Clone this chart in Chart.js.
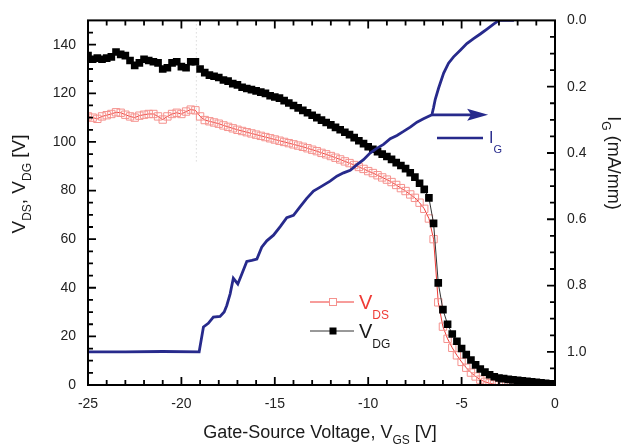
<!DOCTYPE html>
<html><head><meta charset="utf-8">
<script src="https://cdn.jsdelivr.net/npm/chart.js@4.4.1/dist/chart.umd.min.js"></script>
<style>html,body{margin:0;padding:0;background:#fff;}canvas{display:block;}</style>
</head><body>
<canvas id="c" width="628" height="448"></canvas>
<script>
// Gate-source voltage sweep (V)
const vgs = [-25,-24.75,-24.5,-24.25,-24,-23.75,-23.5,-23.25,-23,-22.75,
 -22.5,-22.25,-22,-21.75,-21.5,-21.25,-21,-20.75,-20.5,-20.25,
 -20,-19.75,-19.5,-19.25,-19,-18.75,-18.5,-18.25,-18,-17.75,
 -17.5,-17.25,-17,-16.75,-16.5,-16.25,-16,-15.75,-15.5,-15.25,
 -15,-14.75,-14.5,-14.25,-14,-13.75,-13.5,-13.25,-13,-12.75,
 -12.5,-12.25,-12,-11.75,-11.5,-11.25,-11,-10.75,-10.5,-10.25,
 -10,-9.75,-9.5,-9.25,-9,-8.75,-8.5,-8.25,-8,-7.75,
 -7.5,-7.25,-7,-6.75,-6.5,-6.25,-6,-5.75,-5.5,-5.25,
 -5,-4.75,-4.5,-4.25,-4,-3.75,-3.5,-3.25,-3,-2.75,
 -2.5,-2.25,-2,-1.75,-1.5,-1.25,-1,-0.75,-0.5,-0.25,0];
// V_DS (V)
const vds = [110.5,110,109.5,110.5,111,111.5,112.2,112,111.2,110.5,
 110,110.8,111.2,111.5,111.5,110.5,109.2,110.5,111.5,112,
 111.5,112.5,113.3,113,110.5,109,108.5,108,107.5,106.8,
 106.2,105.6,105,104.5,104,103.5,103,102.5,102,101.5,
 101,100.5,100,99.5,99,98.5,98,97.4,96.8,96.2,
 95.5,94.9,94.2,93.5,92.8,92,91.3,90.5,89.7,88.9,
 88,87.2,86.3,85.4,84.5,83.5,82.3,81,79.8,78.4,
 77,75,72.5,68.5,60,34,24,19,15.3,12.2,
 9.5,7.1,5.1,3.5,2.2,1.3,0.7,0.3,0.1,0,
 0,0,0,0,0,0,0,0,0,0,0];
// V_DG (V)
const vdg = [135.5,134,134.5,134,134.5,135,137,136,135.5,133.5,
 131.5,132.5,134,133.5,133,132.5,130,130.5,132.5,133,
 131,130.5,133,133,130,128.5,127.5,127,126.5,125.5,
 125,124,123.5,122.5,122,121.5,121,120.5,120,119,
 118.5,118,117,116,115,114,113,112,111,110,
 109,108,107,106,105,104,103,101.8,100.5,99.3,
 98,97,96,95,94,92.8,91.5,90.3,89,87.3,
 85.5,83,80.5,77,66.5,42,31,25,21,18,
 15,12.5,10.3,8.3,6.6,5.3,4.2,3.4,2.9,2.6,
 2.3,2.1,1.9,1.7,1.5,1.3,1.1,0.9,0.7,0.5,0.3];
// Gate current I_G (mA/mm), right axis
const igVgs = [-25,-23,-21,-19.05,-18.82,-18.56,-18.29,-17.93,-17.71,-17.57,
 -17.39,-17.22,-16.98,-16.77,-16.5,-16.23,-15.96,-15.7,-15.43,-15.07,
 -14.71,-14.36,-14.0,-13.64,-13.29,-12.93,-12.57,-12.04,-11.68,-11.32,
 -10.96,-10.6,-10.25,-9.9,-9.54,-9.18,-8.82,-8.46,-8.11,-7.75,
 -7.39,-7.04,-6.59,-6.5,-6.41,-6.23,-5.96,-5.7,-5.43,-5.07,
 -4.72,-4.36,-4.0,-3.64,-3.29,-3.0,-2.2];
const igVal = [1.0,1.0,0.999,1.0,0.925,0.914,0.895,0.893,0.88,0.86,
 0.825,0.778,0.795,0.766,0.727,0.724,0.72,0.684,0.665,0.648,
 0.622,0.595,0.588,0.562,0.537,0.515,0.503,0.485,0.47,0.46,
 0.452,0.435,0.42,0.40,0.386,0.374,0.357,0.347,0.335,0.322,
 0.307,0.297,0.285,0.263,0.238,0.204,0.159,0.129,0.11,0.09,
 0.07,0.055,0.041,0.026,0.011,0.0,0.0];
// tick labels
const xTickLabels = ['-25','-20','-15','-10','-5','0'];
const yTickLabels = ['0','20','40','60','80','100','120','140'];
const y2TickLabels = ['0.0','0.2','0.4','0.6','0.8','1.0'];
// annotation: arrow from I_G curve pointing to right axis
const arrowFrom = [-6.59, 0.285];
const arrowTo = [-3.58, 0.285];
const markerLine = [-19.2, 92, 150];

const FONT = '"Liberation Sans", Arial, Helvetica, sans-serif';
const RED = '#ef3b36', RED_M = '#f5928e', BLUE = '#272a8c', INK = '#1a1a1a';

function fmtX(v){ const s = String(Math.round(v)); return (Math.abs(v-Math.round(v))<1e-6 && xTickLabels.includes(s)) ? s : ''; }
function fmtY(v){ const s = String(Math.round(v)); return (Math.abs(v-Math.round(v))<1e-6 && yTickLabels.includes(s)) ? s : ''; }
function fmtY2(v){ const s = v.toFixed(1); return (Math.abs(v*5-Math.round(v*5))<1e-6 && y2TickLabels.includes(s)) ? s : ''; }

function drawParts(ctx, parts, x, y, align){
  let w = 0;
  parts.forEach(p=>{ ctx.font = p.size+'px '+FONT; p.w = ctx.measureText(p.t).width; w += p.w; });
  let cx = align==='center' ? x - w/2 : x;
  ctx.textAlign = 'left'; ctx.textBaseline = 'alphabetic';
  parts.forEach(p=>{ ctx.font = p.size+'px '+FONT; ctx.fillStyle = p.color || INK; ctx.fillText(p.t, cx, y + (p.dy||0)); cx += p.w; });
}

const deco = {
  id: 'deco',
  beforeDatasetsDraw(chart){
    const ctx = chart.ctx, xs = chart.scales.x, ys = chart.scales.y;
    ctx.save();
    ctx.strokeStyle = '#c8c8c8'; ctx.lineWidth = 1; ctx.setLineDash([1,3]);
    const px = xs.getPixelForValue(markerLine[0]);
    ctx.beginPath(); ctx.moveTo(px, ys.getPixelForValue(markerLine[2])); ctx.lineTo(px, ys.getPixelForValue(markerLine[1])); ctx.stroke();
    ctx.restore();
  },
  afterDatasetsDraw(chart){
    const ctx = chart.ctx, a = chart.chartArea;
    const xs = chart.scales.x, ys = chart.scales.y, y2 = chart.scales.y2;
    ctx.save();
    // arrow
    const ax0 = xs.getPixelForValue(arrowFrom[0]), ay = y2.getPixelForValue(arrowFrom[1]);
    const ax1 = xs.getPixelForValue(arrowTo[0]);
    ctx.strokeStyle = BLUE; ctx.fillStyle = BLUE; ctx.lineWidth = 2.8;
    ctx.beginPath(); ctx.moveTo(ax0, ay); ctx.lineTo(ax1-14, ay); ctx.stroke();
    ctx.beginPath(); ctx.moveTo(ax1, ay); ctx.lineTo(ax1-21, ay-6); ctx.lineTo(ax1-17, ay); ctx.lineTo(ax1-21, ay+6); ctx.closePath(); ctx.fill();
    // frame
    ctx.strokeStyle = '#000'; ctx.lineWidth = 2;
    ctx.strokeRect(a.left, a.top, a.right-a.left, a.bottom-a.top);
    // inward ticks
    ctx.lineWidth = 1.8;
    ctx.beginPath();
    xs.ticks.forEach(t=>{
      const p = xs.getPixelForValue(t.value);
      if (p <= a.left+1 || p >= a.right-1) return;
      const L = fmtX(t.value) ? 8 : 5;
      ctx.moveTo(p, a.bottom); ctx.lineTo(p, a.bottom-L);
      ctx.moveTo(p, a.top); ctx.lineTo(p, a.top+L);
    });
    ys.ticks.forEach(t=>{
      const p = ys.getPixelForValue(t.value);
      if (p <= a.top+1 || p >= a.bottom-1) return;
      const L = fmtY(t.value) ? 8 : 5;
      ctx.moveTo(a.left, p); ctx.lineTo(a.left+L, p);
    });
    y2.ticks.forEach(t=>{
      const p = y2.getPixelForValue(t.value);
      if (p <= a.top+1 || p >= a.bottom-1) return;
      const L = fmtY2(t.value) ? 8 : 5;
      ctx.moveTo(a.right, p); ctx.lineTo(a.right-L, p);
    });
    ctx.stroke();
    // legend
    ctx.lineWidth = 1;
    ctx.strokeStyle = RED; ctx.beginPath(); ctx.moveTo(310, 302); ctx.lineTo(354, 302); ctx.stroke();
    ctx.fillStyle = '#fff'; ctx.fillRect(329.5, 298.5, 7, 7);
    ctx.strokeStyle = RED_M; ctx.strokeRect(329.5, 298.5, 7, 7);
    drawParts(ctx, [{t:'V',size:20,color:RED},{t:'DS',size:12,dy:10,color:RED}], 359, 309, 'left');
    ctx.strokeStyle = '#333'; ctx.beginPath(); ctx.moveTo(310, 331); ctx.lineTo(354, 331); ctx.stroke();
    ctx.fillStyle = '#000'; ctx.fillRect(329.5, 327.5, 7, 7);
    drawParts(ctx, [{t:'V',size:20},{t:'DG',size:12,dy:10}], 359, 338, 'left');
    ctx.strokeStyle = BLUE; ctx.lineWidth = 2.5; ctx.beginPath(); ctx.moveTo(437, 138); ctx.lineTo(483, 138); ctx.stroke();
    drawParts(ctx, [{t:'I',size:16,color:BLUE},{t:'G',size:11,dy:10,color:BLUE}], 489, 143, 'left');
    // axis titles
    drawParts(ctx, [{t:'Gate-Source Voltage, V',size:18},{t:'GS',size:12,dy:6},{t:' [V]',size:18}], 320, 438, 'center');
    ctx.save(); ctx.translate(25, 184); ctx.rotate(-Math.PI/2);
    drawParts(ctx, [{t:'V',size:19},{t:'DS',size:12,dy:6},{t:', V',size:19},{t:'DG',size:12,dy:6},{t:' [V]',size:19}], 0, 0, 'center');
    ctx.restore();
    ctx.save(); ctx.translate(608, 163); ctx.rotate(Math.PI/2);
    drawParts(ctx, [{t:'I',size:18},{t:'G',size:12,dy:6},{t:' (mA/mm)',size:18}], 0, 0, 'center');
    ctx.restore();
    ctx.restore();
  }
};

const tickFont = {family: FONT, size: 14};
new Chart(document.getElementById('c'), {
  type: 'line',
  data: {
    datasets: [
      { label: 'I_G', data: igVgs.map((v,i)=>({x:v, y:igVal[i]})), yAxisID: 'y2',
        borderColor: BLUE, borderWidth: 2.8, pointRadius: 0, tension: 0, fill: false },
      { label: 'V_DG', data: vgs.map((v,i)=>({x:v, y:vdg[i]})), yAxisID: 'y',
        borderColor: '#333', borderWidth: 1, pointStyle: 'rect', pointRadius: 5.4,
        pointBackgroundColor: '#000', pointBorderColor: '#000', pointBorderWidth: 0, tension: 0, fill: false },
      { label: 'V_DS', data: vgs.map((v,i)=>({x:v, y:vds[i]})), yAxisID: 'y',
        borderColor: RED, borderWidth: 1, pointStyle: 'rect', pointRadius: 5.2,
        pointBackgroundColor: 'rgba(0,0,0,0)', pointBorderColor: RED_M, pointBorderWidth: 1, tension: 0, fill: false }
    ]
  },
  options: {
    responsive: false, animation: false, devicePixelRatio: 1,
    layout: { padding: { top: 13, left: 0, right: 0, bottom: 0 } },
    plugins: { legend: { display: false }, tooltip: { enabled: false } },
    scales: {
      x: { type: 'linear', position: 'bottom', min: -25, max: 0,
        afterFit(s){ s.height = 63; },
        grid: { display: false, drawTicks: false }, border: { display: false },
        ticks: { stepSize: 1, autoSkip: false, maxRotation: 0, padding: 11, font: tickFont, color: '#222', callback: v=>fmtX(v) } },
      y: { type: 'linear', position: 'left', min: 0, max: 150,
        afterFit(s){ s.width = 88; },
        grid: { display: false, drawTicks: false }, border: { display: false },
        ticks: { stepSize: 5, autoSkip: false, padding: 12, font: tickFont, color: '#222', callback: v=>fmtY(v) } },
      y2: { type: 'linear', position: 'right', min: 0, max: 1.1, reverse: true,
        afterFit(s){ s.width = 73; },
        grid: { display: false, drawTicks: false }, border: { display: false },
        ticks: { stepSize: 0.05, autoSkip: false, padding: 12, font: tickFont, color: '#222', callback: v=>fmtY2(v) } }
    }
  },
  plugins: [deco]
});
</script>
</body></html>
